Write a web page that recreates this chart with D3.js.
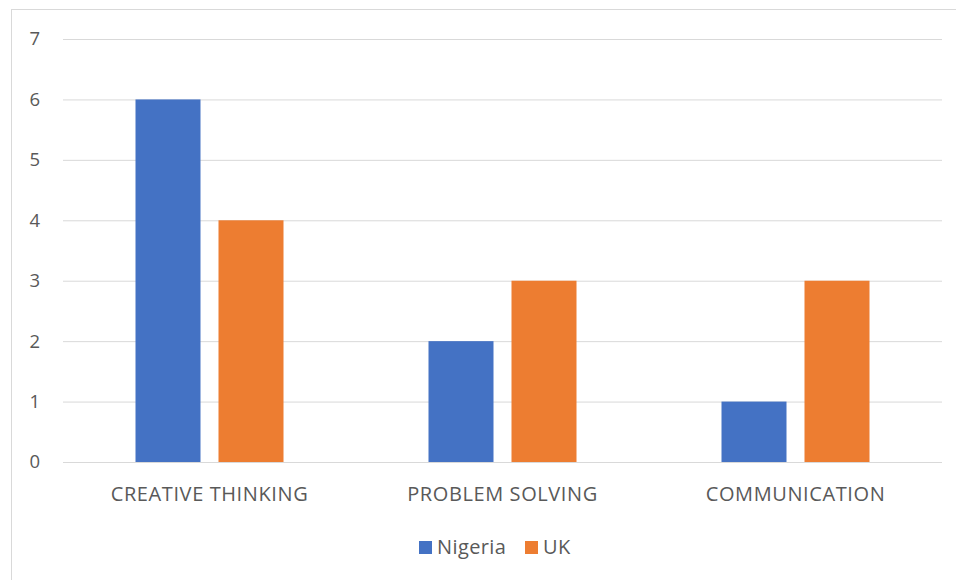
<!DOCTYPE html>
<html><head><meta charset="utf-8">
<script src="https://cdn.jsdelivr.net/npm/d3@7"></script>
<style>body{margin:0;background:#fff}svg{display:block}</style>
</head><body><svg id="c" width="956" height="580"></svg>
<script>
const categories = ["CREATIVE THINKING", "PROBLEM SOLVING", "COMMUNICATION"];
const seriesNames = ["Nigeria", "UK"];
const nigeria = [6, 2, 1];
const uk = [4, 3, 3];
const yTicks = [0, 1, 2, 3, 4, 5, 6, 7];
const colors = ["#4472C4", "#ED7D31"];

const svg = d3.select("#c");
const font = "'Open Sans', 'Liberation Sans', sans-serif";
svg.append("rect").attr("x", 11.5).attr("y", 9.5).attr("width", 960).attr("height", 600)
  .attr("fill", "#fff").attr("stroke", "#d9d9d9");

const L = 63, R = 942, T = 39, B = 462;
const x = d3.scaleBand().domain(categories).range([L, R]).paddingInner(0).paddingOuter(0);
const y = d3.scaleLinear().domain([0, 7]).range([B, T]);

svg.append("g").selectAll("line").data(yTicks).join("line")
  .attr("x1", L).attr("x2", R).attr("y1", d => y(d) + 0.5).attr("y2", d => y(d) + 0.5)
  .attr("stroke", "#d9d9d9").attr("stroke-width", 1);

const yAxis = svg.append("g").attr("transform", `translate(${L},0)`)
  .call(d3.axisLeft(y).tickValues(yTicks).tickFormat(d3.format("d")).tickSize(0).tickPadding(23));
yAxis.select(".domain").remove();
yAxis.selectAll("text").attr("font-family", font).attr("font-size", 18.5).attr("fill", "#595959");

const xAxis = svg.append("g").attr("transform", `translate(0,${B})`)
  .call(d3.axisBottom(x).tickSize(0).tickPadding(0));
xAxis.select(".domain").remove();
xAxis.selectAll("text").attr("font-family", font).attr("font-size", 20).attr("fill", "#595959")
  .attr("dy", null).attr("y", 39).attr("letter-spacing", 0.6);

const bw = 65, gap = 18;
const data = [nigeria, uk];
data.forEach((vals, si) => {
  svg.append("g").selectAll("rect").data(vals).join("rect")
    .attr("x", (d, i) => x(categories[i]) + x.bandwidth() / 2 - bw - gap / 2 + si * (bw + gap))
    .attr("y", d => y(d)).attr("width", bw).attr("height", d => B - y(d))
    .attr("fill", colors[si]);
});

const leg = svg.append("g");
const legX = [419, 525];
seriesNames.forEach((n, i) => {
  leg.append("rect").attr("x", legX[i]).attr("y", 541).attr("width", 13).attr("height", 13).attr("fill", colors[i]);
  leg.append("text").attr("x", legX[i] + 18).attr("y", 553.5).attr("font-family", font)
    .attr("font-size", 20).attr("letter-spacing", 0.4).attr("fill", "#595959").text(n);
});
</script></body></html>
